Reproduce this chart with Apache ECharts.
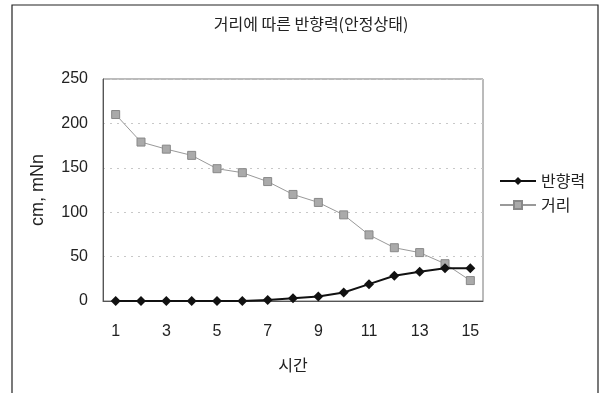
<!DOCTYPE html>
<html><head><meta charset="utf-8">
<script src="https://cdn.jsdelivr.net/npm/echarts@6/dist/echarts.min.js"></script>
<style>html,body{margin:0;padding:0;background:#fff}#c{width:608px;height:393px}</style>
</head><body><div id="c"></div>
<script>
const categories = ['1','2','3','4','5','6','7','8','9','10','11','12','13','14','15'];
const forceValues = [0,0,0,0,0,0,1,3,5,9.5,19,28.5,33,37,37];
const distanceValues = [210,179,171,164,149,144.5,134.5,120,111,97,74.5,60,54.5,42,23];
const yTicks = [0,50,100,150,200,250];
const FONT = '"Noto Sans CJK KR", "Noto Sans", sans-serif';
const NUMFONT = '"Liberation Sans", Arial, sans-serif';

const chart = echarts.init(document.getElementById('c'));
chart.setOption({
  animation: false,
  backgroundColor: '#fff',
  title: {
    text: '거리에 따른 반향력(안정상태)', left: 306, top: 11, textAlign: 'center',
    textStyle: { fontFamily: FONT, fontSize: 16, fontWeight: 'normal', color: '#222' }
  },
  graphic: [{
    type: 'rect', shape: { x: 12, y: 5, width: 586, height: 400 },
    style: { fill: 'none', stroke: '#222', lineWidth: 1.2 }, silent: true
  }],
  legend: {
    orient: 'vertical', left: 494, top: 168, itemGap: 8, itemWidth: 36, itemHeight: 10,
    textStyle: { fontFamily: FONT, fontSize: 16, color: '#222' },
    data: ['반향력', '거리']
  },
  grid: { left: 103, top: 79, width: 380, height: 222, show: true, borderColor: '#777', borderWidth: 1, backgroundColor: 'transparent' },
  xAxis: {
    type: 'category', data: categories, boundaryGap: true,
    name: '시간', nameLocation: 'middle', nameGap: 56,
    nameTextStyle: { fontFamily: FONT, fontSize: 16, color: '#222' },
    axisLine: { lineStyle: { color: '#555' } }, axisTick: { show: false },
    axisLabel: { interval: 1, fontFamily: NUMFONT, fontSize: 16, color: '#222', margin: 23 }
  },
  yAxis: {
    type: 'value', min: yTicks[0], max: yTicks[yTicks.length - 1], interval: 50,
    name: 'cm, mNn', nameLocation: 'middle', nameGap: 56,
    nameTextStyle: { fontFamily: NUMFONT, fontSize: 18, color: '#222' },
    axisLine: { show: true, lineStyle: { color: '#555' } }, axisTick: { show: false },
    axisLabel: { fontFamily: NUMFONT, fontSize: 16, color: '#222', margin: 15 },
    splitLine: { show: true, lineStyle: { color: '#c8c8c8', type: [2, 5], width: 1 } }
  },
  series: [
    {
      name: '반향력', type: 'line', data: forceValues,
      symbol: 'diamond', symbolSize: 10,
      lineStyle: { color: '#111', width: 2 },
      itemStyle: { color: '#111' }, z: 3
    },
    {
      name: '거리', type: 'line', data: distanceValues,
      symbol: 'rect', symbolSize: 8,
      lineStyle: { color: '#999', width: 1 },
      itemStyle: { color: '#aaa', borderColor: '#888', borderWidth: 1 }, z: 2
    }
  ]
});
</script></body></html>
